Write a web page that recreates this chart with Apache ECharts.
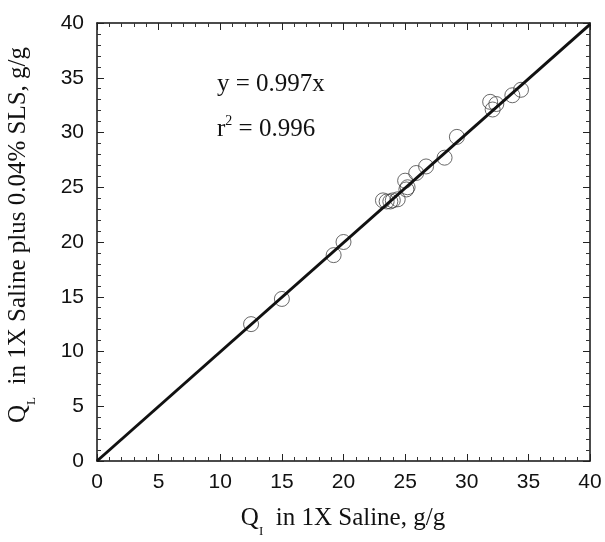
<!DOCTYPE html>
<html>
<head>
<meta charset="utf-8">
<script src="https://cdn.jsdelivr.net/npm/echarts@6/dist/echarts.min.js"></script>
<style>
  html, body { margin: 0; padding: 0; background: #fff; }
  #chart { width: 605px; height: 542px; }
</style>
</head>
<body>
<div id="chart"></div>
<script>
// Uptake in saline (x) vs. saline plus SLS (y), g/g
const qSaline = [12.5, 15.0, 19.2, 20.0, 23.2, 23.5, 23.8, 24.0, 24.4, 25.0, 25.1, 25.2, 25.9, 26.7, 28.2, 29.2, 31.9, 32.4, 32.1, 33.7, 34.4];
const qSLS    = [12.5, 14.8, 18.8, 20.0, 23.8, 23.7, 23.7, 23.8, 23.9, 25.6, 24.8, 25.0, 26.3, 26.9, 27.7, 29.6, 32.8, 32.6, 32.1, 33.4, 33.9];
const slope = 0.997;
const rSquared = 0.996;
const axisMin = 0, axisMax = 40, majorStep = 5;

const points = qSaline.map((x, i) => [x, qSLS[i]]);
const fitLine = [[axisMin, slope * axisMin], [axisMax, slope * axisMax]];

const chart = echarts.init(document.getElementById('chart'));

const tickCommon = {
  axisLine: { show: true, onZero: false, lineStyle: { color: '#111', width: 1.5 } },
  axisTick: { show: true, inside: true, length: 7, lineStyle: { color: '#222', width: 1 } },
  minorTick: { show: true, splitNumber: 5, length: 4, lineStyle: { color: '#333', width: 1 } },
  splitLine: { show: false },
  min: axisMin, max: axisMax, interval: majorStep
};
const labelStyle = { color: '#111', fontFamily: 'Liberation Sans, Arial, sans-serif', fontSize: 21 };
const serif = 'Liberation Serif, Times New Roman, serif';

chart.setOption({
  animation: false,
  grid: { left: 97, top: 23, right: 15, bottom: 81 },
  xAxis: [
    Object.assign({ type: 'value', position: 'bottom',
      axisLabel: Object.assign({ margin: 11 }, labelStyle) }, tickCommon),
    Object.assign({ type: 'value', position: 'top', axisLabel: { show: false } }, tickCommon)
  ],
  yAxis: [
    Object.assign({ type: 'value', position: 'left',
      axisLabel: Object.assign({ margin: 13 }, labelStyle) }, tickCommon),
    Object.assign({ type: 'value', position: 'right', axisLabel: { show: false } }, tickCommon)
  ],
  series: [
    {
      type: 'scatter',
      data: points,
      symbol: 'circle',
      symbolSize: 15,
      itemStyle: { color: 'rgba(0,0,0,0)', borderColor: '#444', borderWidth: 1 },
      z: 2
    },
    {
      type: 'line',
      data: fitLine,
      showSymbol: false,
      lineStyle: { color: '#111', width: 3 },
      z: 3
    }
  ],
  graphic: [
    {
      type: 'text', x: 217, y: 72,
      style: { text: 'y = ' + slope.toFixed(3) + 'x', fill: '#111',
        font: '25px "Liberation Serif", "Times New Roman", serif' }
    },
    {
      type: 'text', x: 217, y: 110,
      style: {
        text: '{a|r}{s|2}{a| = ' + rSquared.toFixed(3) + '}',
        rich: {
          a: { fontSize: 25, fontFamily: serif, fill: '#111', lineHeight: 32, verticalAlign: 'bottom' },
          s: { fontSize: 14, fontFamily: serif, fill: '#111', lineHeight: 32, verticalAlign: 'top', padding: [4, 0, 0, 0] }
        }
      }
    },
    {
      type: 'text', x: 343, y: 522,
      style: {
        text: '{a|Q}{s|I}{a|  in 1X Saline, g/g}',
        align: 'center', verticalAlign: 'middle',
        rich: {
          a: { fontSize: 25, fontFamily: serif, fill: '#111', lineHeight: 32, verticalAlign: 'top' },
          s: { fontSize: 13, fontFamily: serif, fill: '#111', lineHeight: 32, verticalAlign: 'bottom' }
        }
      }
    },
    {
      type: 'text', x: 22, y: 235, rotation: Math.PI / 2,
      style: {
        text: '{a|Q}{s|L}{a|  in 1X Saline plus 0.04% SLS, g/g}',
        align: 'center', verticalAlign: 'middle',
        rich: {
          a: { fontSize: 25, fontFamily: serif, fill: '#111', lineHeight: 32, verticalAlign: 'top' },
          s: { fontSize: 13, fontFamily: serif, fill: '#111', lineHeight: 32, verticalAlign: 'bottom' }
        }
      }
    }
  ]
});
</script>
</body>
</html>
